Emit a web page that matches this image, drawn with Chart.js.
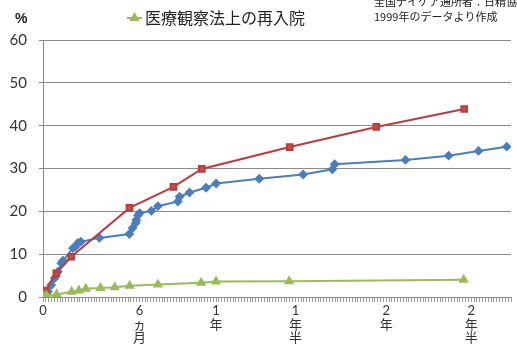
<!DOCTYPE html>
<html lang="ja">
<head>
<meta charset="utf-8">
<script src="https://cdn.jsdelivr.net/npm/chart.js@4.4.1/dist/chart.umd.min.js"></script>
<style>
  html, body { margin: 0; padding: 0; background: #fff; }
</style>
</head>
<body>
<canvas id="grafico" width="517" height="353"></canvas>
<script>
// --- DATOS (meses desde el alta / % acumulado) ---

// Serie azul: 全国デイケア通所者 (日精協誌 1999)
const mesesAzul = [0.1, 0.35, 0.58, 0.82, 1.05, 1.29, 1.41, 2.11, 2.27, 2.46, 2.67, 3.98, 6.09, 6.32, 6.54, 6.58, 6.70, 6.82, 7.64, 8.10, 9.51, 9.63, 10.33, 11.50, 12.21, 15.25, 18.34, 20.40, 20.57, 25.56, 28.60, 30.71, 32.70];
const valoresAzul = [0.8, 1.2, 2.8, 4.4, 5.9, 7.9, 8.5, 11.4, 11.7, 12.6, 12.9, 13.8, 14.7, 16.1, 17.3, 18.0, 19.1, 19.6, 20.1, 21.2, 22.3, 23.4, 24.4, 25.5, 26.5, 27.6, 28.6, 29.8, 31.0, 32.0, 33.0, 34.1, 35.1];

// Serie roja
const mesesRojo = [0.15, 0.94, 1.99, 6.1, 9.2, 11.2, 17.4, 23.5, 29.7];
const valoresRojo = [1.5, 5.5, 9.4, 20.8, 25.7, 29.9, 35.0, 39.7, 43.9];

// Serie verde: 医療観察法上の再入院
const mesesVerde = [0.05, 0.26, 0.96, 2.02, 2.53, 3.02, 4.05, 5.06, 6.11, 8.10, 11.15, 12.2, 17.36, 29.66];
const valoresVerde = [0.1, 0.3, 0.6, 1.2, 1.5, 1.9, 2.1, 2.3, 2.6, 2.9, 3.3, 3.6, 3.7, 4.0];

// Etiquetas del eje X (posición en meses)
const posEtiquetas = [0, 6.8, 12.2, 17.8, 24.2, 30.2];
const textoEtiquetas = [['0'], ['6', 'ヵ', '月'], ['1', '年'], ['1', '年', '半'], ['2', '年'], ['2', '年', '半']];

const ticksY = [0, 10, 20, 30, 40, 50, 60];

const leyendaVerde = '医療観察法上の再入院';
const fuente1 = '全国デイケア通所者：日精協誌';
const fuente2 = '1999年のデータより作成';

// Colores estilo Excel
const azul = '#4a7ebb';
const rojo = '#be3a3c';
const verde = '#9bbb59';

function puntos(xs, ys) {
    return xs.map((x, i) => ({ x: x, y: ys[i] }));
}

// Plugin para dibujar el encabezado (%, leyenda y fuente)
const cabecera = {
    id: 'cabecera',
    afterDraw(chart) {
        const ctx = chart.ctx;
        ctx.save();
        ctx.textBaseline = 'middle';
        ctx.fillStyle = '#222';
        ctx.font = 'bold 14px "Liberation Sans", sans-serif';
        ctx.fillText('%', 15, 19);

        // leyenda de la serie verde
        ctx.strokeStyle = verde;
        ctx.lineWidth = 2;
        ctx.beginPath();
        ctx.moveTo(127, 18);
        ctx.lineTo(142, 18);
        ctx.stroke();
        ctx.fillStyle = verde;
        Chart.helpers.drawPoint(ctx, { pointStyle: 'triangle', radius: 4, rotation: 0, borderWidth: 1 }, 134.5, 18);

        ctx.fillStyle = '#222';
        ctx.font = '16px "Noto Sans CJK JP", sans-serif';
        ctx.fillText(leyendaVerde, 145, 18);

        ctx.font = '11px "Noto Sans CJK JP", sans-serif';
        ctx.fillText(fuente1, 374, 2);
        ctx.fillText(fuente2, 374, 17);
        ctx.restore();
    }
};

const ctxGrafico = document.getElementById('grafico').getContext('2d');

new Chart(ctxGrafico, {
    type: 'line',
    data: {
        datasets: [{
            label: 'デイケア通所者',
            data: puntos(mesesAzul, valoresAzul),
            borderColor: azul,
            backgroundColor: azul,
            borderWidth: 2,
            pointStyle: 'rectRot',
            pointRadius: 3.5,
            order: 2
        }, {
            label: '再入院',
            data: puntos(mesesRojo, valoresRojo),
            borderColor: rojo,
            backgroundColor: '#c0504d',
            borderWidth: 2,
            pointStyle: 'rect',
            pointRadius: 4,
            order: 1
        }, {
            label: leyendaVerde,
            data: puntos(mesesVerde, valoresVerde),
            borderColor: verde,
            backgroundColor: verde,
            borderWidth: 2,
            pointStyle: 'triangle',
            pointRadius: 4,
            order: 0
        }]
    },
    options: {
        responsive: false,
        animation: false,
        layout: { padding: { top: 40, right: 5, left: 0, bottom: 0 } },
        plugins: {
            legend: { display: false },
            tooltip: { enabled: false }
        },
        scales: {
            x: {
                type: 'linear',
                min: 0,
                max: 33,
                afterBuildTicks(scale) {
                    // marcas menores cada 0.2 meses
                    const t = [];
                    for (let i = 0; i <= 165; i++) t.push({ value: Math.round(i * 2) / 10 });
                    scale.ticks = t;
                },
                afterFit(scale) { scale.height = 56; },
                grid: {
                    drawOnChartArea: false,
                    drawTicks: true,
                    tickLength: 5,
                    color: '#9a9a9a'
                },
                border: { color: '#8a8a8a' },
                ticks: {
                    autoSkip: false,
                    maxRotation: 0,
                    minRotation: 0,
                    padding: 2,
                    color: '#333',
                    font: { family: 'Lato, "Noto Sans CJK JP", sans-serif', size: 13, lineHeight: 1.05 },
                    callback(value) {
                        const i = posEtiquetas.findIndex(p => Math.abs(p - value) < 0.05);
                        return i >= 0 ? textoEtiquetas[i] : '';
                    }
                }
            },
            y: {
                min: 0,
                max: 60,
                afterBuildTicks(scale) {
                    scale.ticks = ticksY.map(v => ({ value: v }));
                },
                afterFit(scale) { scale.width = 43; },
                grid: {
                    color: '#8a8a8a',
                    tickLength: 4
                },
                border: { color: '#8a8a8a' },
                ticks: {
                    padding: 12,
                    color: '#333',
                    font: { family: 'Lato, sans-serif', size: 15 }
                }
            }
        }
    },
    plugins: [cabecera]
});
</script>
</body>
</html>
